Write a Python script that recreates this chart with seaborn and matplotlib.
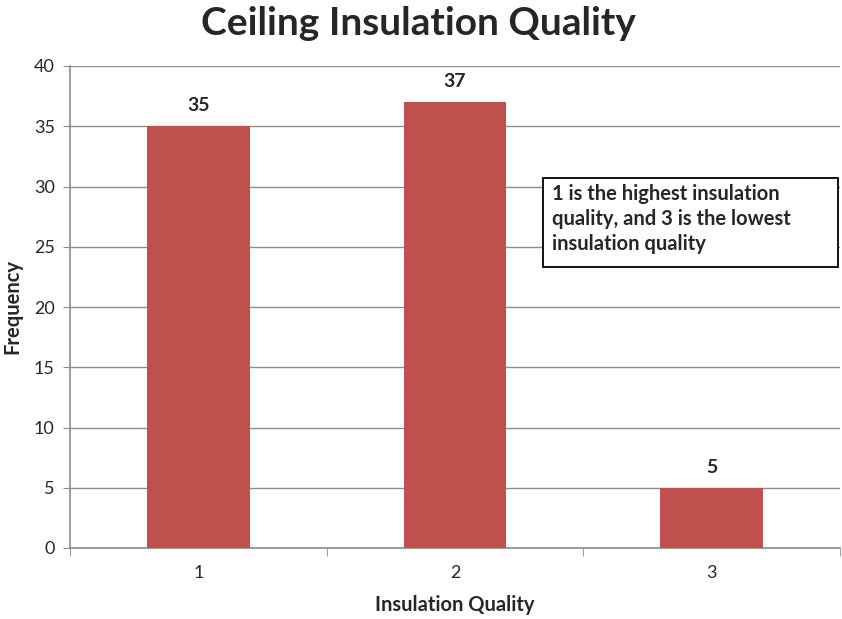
import matplotlib
matplotlib.use("Agg")
import matplotlib.pyplot as plt
import seaborn as sns
import pandas as pd
from matplotlib.ticker import FixedLocator
from matplotlib.patches import Rectangle

categories = ["1", "2", "3"]
frequency = [35, 37, 5]
y_ticks = [0, 5, 10, 15, 20, 25, 30, 35, 40]

sns.set_style("white")
plt.rcParams['font.family'] = ['Lato', 'DejaVu Sans']

df = pd.DataFrame({"Insulation Quality": categories, "Frequency": frequency})

fig = plt.figure(figsize=(8.42, 6.19), dpi=100)
ax = fig.add_axes([70/842, 1 - 548/619, 770/842, 482/619])

sns.barplot(data=df, x="Insulation Quality", y="Frequency", color="#C0504D",
            width=0.4, saturation=1, linewidth=0, ax=ax, zorder=3)

ax.set_xlim(-0.5, 2.5)
ax.set_ylim(0, 40)
ax.set_yticks(y_ticks)
ax.yaxis.grid(True, color="#8c8c8c", linewidth=1, zorder=0)
ax.set_axisbelow(True)

for s in ["top", "right"]:
    ax.spines[s].set_visible(False)
for s in ["left", "bottom"]:
    ax.spines[s].set_color("#8c8c8c")
    ax.spines[s].set_linewidth(1.2)

ax.tick_params(axis="y", which="major", length=5, color="#8c8c8c", labelsize=13, direction="out", left=True, pad=6)
ax.tick_params(axis="x", which="major", length=0, labelsize=13, pad=12)
ax.xaxis.set_minor_locator(FixedLocator([-0.5, 0.5, 1.5, 2.5]))
ax.tick_params(axis="x", which="minor", length=6, color="#8c8c8c", direction="out", bottom=True)

for i, v in enumerate(frequency):
    ax.text(i, v + 1.0, str(v), ha="center", va="bottom", fontsize=14, fontweight="bold")

ax.set_xlabel("Insulation Quality", fontsize=14.5, fontweight="bold", labelpad=10)
ax.set_ylabel("Frequency", fontsize=14.5, fontweight="bold", labelpad=8)

fig.suptitle("Ceiling Insulation Quality", fontsize=28, fontweight="bold", y=0.99, va="top", x=0.497)

ax.add_patch(Rectangle((0.614, 0.583), 0.384, 0.185, transform=ax.transAxes,
                       facecolor="white", edgecolor="black", linewidth=1.3, zorder=5,
                       clip_on=False))
ax.text(0.626, 0.755, "1 is the highest insulation\nquality, and 3 is the lowest\ninsulation quality",
        transform=ax.transAxes, ha="left", va="top", fontsize=14.5, fontweight="bold",
        linespacing=1.3, zorder=6)

fig.savefig("out.png", dpi=100)
